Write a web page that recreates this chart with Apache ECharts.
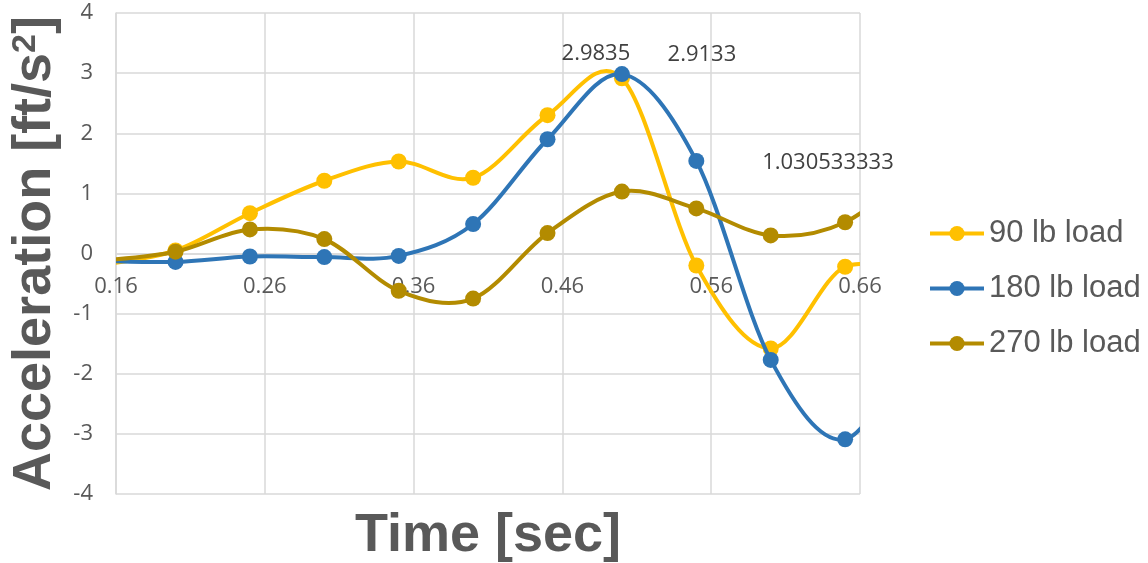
<!DOCTYPE html>
<html>
<head>
<meta charset="utf-8">
<script src="https://cdn.jsdelivr.net/npm/echarts@6/dist/echarts.min.js"></script>
<style>
  html, body { margin: 0; padding: 0; background: #ffffff; }
  #chart { width: 1148px; height: 563px; }
</style>
</head>
<body>
<div id="chart"></div>
<script>
// Sample times [sec]; the first and last samples sit just outside the visible window
const times = [0.15, 0.2, 0.25, 0.3, 0.35, 0.4, 0.45, 0.5, 0.55, 0.6, 0.65, 0.7];

// Acceleration [ft/s^2] per load case
const load90 = [-0.19, 0.05, 0.67, 1.21, 1.53, 1.26, 2.30, 2.9133, -0.20, -1.58, -0.22, -0.5];
const load180 = [-0.12, -0.14, -0.05, -0.06, -0.04, 0.49, 1.90, 2.9835, 1.54, -1.77, -3.09, -1.3];
const load270 = [-0.12, 0.03, 0.40, 0.24, -0.62, -0.75, 0.34, 1.030533333, 0.75, 0.30, 0.52, 1.45];

const seriesNames = ['90 lb load', '180 lb load', '270 lb load'];
const xTicks = [0.16, 0.26, 0.36, 0.46, 0.56, 0.66];
const yTicks = [-4, -3, -2, -1, 0, 1, 2, 3, 4];

// index of the sample whose value is printed on each curve
const labelIndex = 7;

const colors = ['#ffc000', '#2e75b6', '#b38b00'];
const labelOffsets = [[80, -24], [-26, -20], [206, -29]];
const LINE_WIDTH = 4;

// Markers (and the printed value) for one load case
function markerSeries(name, values, color, offset, z) {
  return {
    name: name,
    type: 'line',
    z: z + 1,
    clip: true,
    symbol: 'circle',
    symbolSize: 16,
    lineStyle: { color: color, width: LINE_WIDTH, opacity: 0 },
    itemStyle: { color: color },
    data: times.map((t, i) => {
      const point = { value: [t, values[i]] };
      if (i === labelIndex) {
        point.label = {
          show: true,
          position: 'inside',
          offset: offset,
          formatter: String(values[i]),
          color: '#404040',
          fontSize: 22,
          fontFamily: 'Open Sans'
        };
      }
      return point;
    })
  };
}

// Smoothed curve through the samples (uniform Catmull-Rom as cubic Beziers),
// placed with the chart's own axis scales
function curveSeries(name, values, color, z) {
  return {
    name: name,
    type: 'custom',
    z: z,
    clip: true,
    silent: true,
    encode: { x: 0, y: 1 },
    data: times.map((t, i) => [t, values[i]]),
    renderItem: function (params, api) {
      if (params.dataIndex !== 0) return null;
      const pts = times.map((t, i) => api.coord([t, values[i]]));
      const n = pts.length;
      let d = 'M' + pts[0][0] + ' ' + pts[0][1];
      for (let i = 0; i < n - 1; i++) {
        const p0 = pts[Math.max(i - 1, 0)];
        const p1 = pts[i];
        const p2 = pts[i + 1];
        const p3 = pts[Math.min(i + 2, n - 1)];
        const c1x = p1[0] + (p2[0] - p0[0]) / 6;
        const c1y = p1[1] + (p2[1] - p0[1]) / 6;
        const c2x = p2[0] - (p3[0] - p1[0]) / 6;
        const c2y = p2[1] - (p3[1] - p1[1]) / 6;
        d += ' C' + c1x + ' ' + c1y + ' ' + c2x + ' ' + c2y + ' ' + p2[0] + ' ' + p2[1];
      }
      return {
        type: 'path',
        shape: { pathData: d },
        style: { fill: 'none', stroke: color, lineWidth: LINE_WIDTH, lineJoin: 'round', lineCap: 'round' }
      };
    }
  };
}

const chart = echarts.init(document.getElementById('chart'), null, { renderer: 'canvas' });

const allValues = [load90, load180, load270];
const series = [];
seriesNames.forEach((name, k) => {
  series.push(markerSeries(name, allValues[k], colors[k], labelOffsets[k], 2 + k * 2));
});
seriesNames.forEach((name, k) => {
  series.push(curveSeries(name, allValues[k], colors[k], 2 + k * 2));
});

chart.setOption({
  animation: false,
  backgroundColor: '#ffffff',
  grid: { left: 116, right: 288, top: 13, bottom: 69, containLabel: false },
  xAxis: {
    type: 'value',
    min: xTicks[0],
    max: xTicks[xTicks.length - 1],
    interval: 0.1,
    // the axis sits on the zero line of the acceleration scale
    offset: -240.5,
    axisLine: { show: true, onZero: false, lineStyle: { color: '#d9d9d9', width: 1.5 } },
    axisTick: { show: false },
    axisLabel: {
      color: '#595959',
      fontSize: 22,
      fontFamily: 'Open Sans',
      margin: 22,
      formatter: v => v.toFixed(2)
    },
    splitLine: { show: true, lineStyle: { color: '#d9d9d9', width: 1.5 } }
  },
  yAxis: {
    type: 'value',
    min: yTicks[0],
    max: yTicks[yTicks.length - 1],
    interval: 1,
    axisLine: { show: true, lineStyle: { color: '#d9d9d9', width: 1.5 } },
    axisTick: { show: false },
    axisLabel: { color: '#595959', fontSize: 22, fontFamily: 'Open Sans', margin: 23 },
    splitLine: { show: true, lineStyle: { color: '#d9d9d9', width: 1.5 } },
    name: '{t|Acceleration [ft/s}{s|2}{t|]}',
    nameLocation: 'middle',
    nameRotate: 90,
    nameGap: 53,
    nameTextStyle: {
      rich: {
        t: { fontSize: 54, fontWeight: 'bold', color: '#595959', fontFamily: 'Liberation Sans' },
        s: { fontSize: 34, fontWeight: 'bold', color: '#595959', fontFamily: 'Liberation Sans', verticalAlign: 'top' }
      }
    }
  },
  legend: {
    orient: 'vertical',
    left: 923,
    top: 213,
    itemGap: 24,
    itemWidth: 54,
    itemHeight: 19,
    lineStyle: { width: LINE_WIDTH, opacity: 1 },
    data: seriesNames,
    textStyle: { color: '#595959', fontSize: 31, fontFamily: 'Liberation Sans' }
  },
  graphic: [{
    type: 'text',
    style: {
      text: 'Time [sec]',
      x: 488,
      y: 536,
      align: 'center',
      verticalAlign: 'middle',
      fill: '#595959',
      fontSize: 54,
      fontWeight: 'bold',
      fontFamily: 'Liberation Sans'
    }
  }],
  series: series
});
</script>
</body>
</html>
